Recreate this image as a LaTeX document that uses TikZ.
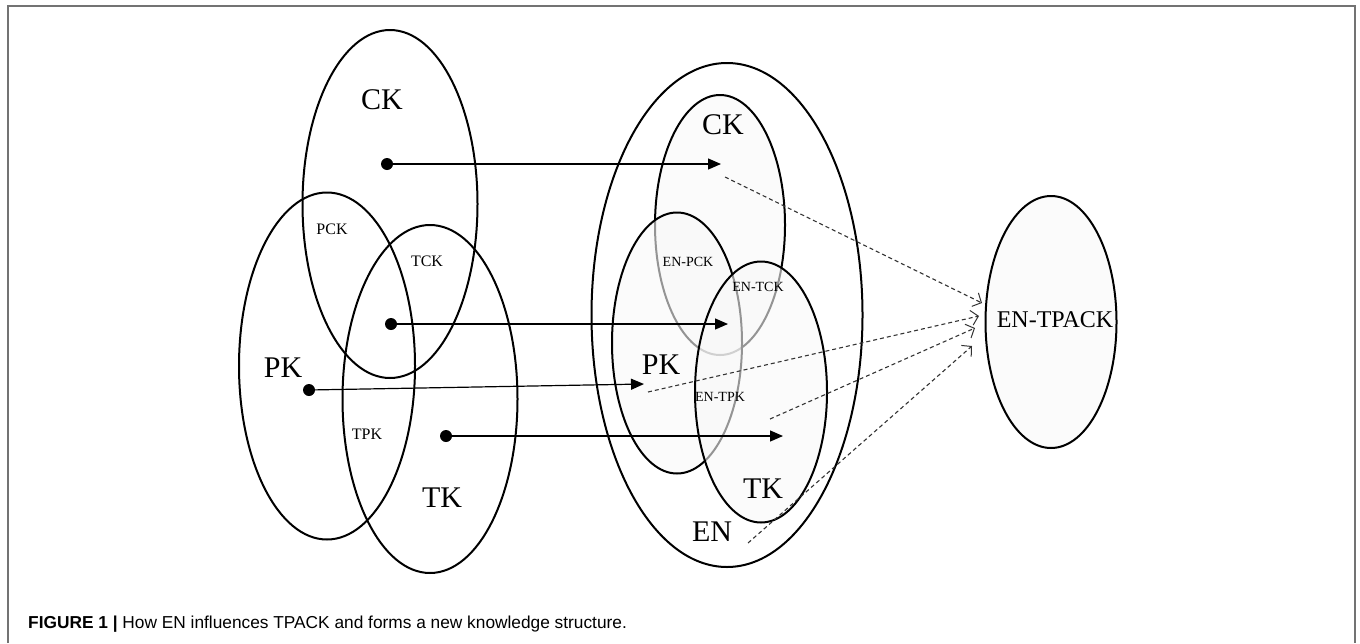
\documentclass[tikz,border=0pt]{standalone}
\usepackage{fontspec}
\setmainfont{Liberation Serif}
\newfontfamily\capfont{Liberation Sans}
\usetikzlibrary{shapes.geometric,arrows.meta}
\definecolor{inner}{RGB}{248,248,248}
\begin{document}
\begin{tikzpicture}[x=1pt,y=-1pt,
  ell/.style={ellipse, draw, line width=2pt, inner sep=0pt},
  fel/.style={ell, fill=inner, fill opacity=0.6, draw opacity=1},
  big/.style={font=\fontsize{30}{31}\selectfont, inner sep=0pt},
  small/.style={font=\fontsize{16}{17}\selectfont, inner sep=0pt},
  tiny/.style={font=\fontsize{14}{15}\selectfont, inner sep=0pt},
  dot/.style={circle, fill=black, inner sep=0pt, minimum size=12pt},
  sarrow/.style={line width=1.2pt, -{Triangle[length=13pt,width=11pt]}},
  darrow/.style={line width=1.1pt, black!80, dash pattern=on 4pt off 3pt, -{Straight Barb[length=7pt,width=15pt,line width=1pt]}}
]
\useasboundingbox (0,0) rectangle (1360,643);
\draw[black!55, line width=1.6pt] (8,643) -- (8,6) -- (1355,6) -- (1355,643);

% left group
\node[ell, minimum width=175pt, minimum height=348pt] (lck) at (390,204) {};
\node[ell, minimum width=176pt, minimum height=347pt] (lpk) at (327,366) {};
\node[ell, minimum width=175pt, minimum height=348pt] (ltk) at (430,399) {};
\node[big] (lckl) at (382,100) {CK};
\node[small] (lpck) at (332,229) {PCK};
\node[small] (ltck) at (427,261) {TCK};
\node[big] (lpkl) at (283,368) {PK};
\node[small] (ltpk) at (367,434) {TPK};
\node[big] (ltkl) at (442,498) {TK};

% right group
\node[ell, minimum width=271pt, minimum height=504pt] (en) at (727,315) {};
\node[fel, minimum width=130pt, minimum height=260pt] (rck) at (720,225) {};
\node[fel, minimum width=130pt, minimum height=261pt] (rpk) at (677,343) {};
\node[fel, minimum width=132pt, minimum height=261pt] (rtk) at (761,392) {};
\node[big] (rckl) at (723,125) {CK};
\node[tiny] (rpck) at (688,262) {EN-PCK};
\node[tiny] (rtck) at (758,287) {EN-TCK};
\node[big] (rpkl) at (661,365) {PK};
\node[tiny] (rtpk) at (720,397) {EN-TPK};
\node[big] (rtkl) at (763,489) {TK};
\node[big] (enl) at (712,532) {EN};

% EN-TPACK
\node[fel, minimum width=131pt, minimum height=252pt] (tpack) at (1051,322) {};
\node[font=\fontsize{24}{25}\selectfont, inner sep=0pt] (tpackl) at (1055,320) {EN-TPACK};

% solid arrows
\node[dot] (d1) at (387,164) {};
\node[dot] (d2) at (391,324) {};
\node[dot] (d3) at (309,390) {};
\node[dot] (d4) at (446,436) {};
\coordinate (t1) at (721,164);
\coordinate (t2) at (728,324);
\coordinate (t3) at (644,384);
\coordinate (t4) at (783,436);
\draw[sarrow] (d1.center) -- (t1);
\draw[sarrow] (d2.center) -- (t2);
\draw[sarrow] (d3.center) -- (t3);
\draw[sarrow] (d4.center) -- (t4);

% dashed arrows
\coordinate (s1) at (725,177);
\coordinate (s2) at (648,392);
\coordinate (s3) at (770,419);
\coordinate (s4) at (748,543);
\coordinate (e1) at (982,303);
\coordinate (e2) at (979,316);
\coordinate (e3) at (975,328);
\coordinate (e4) at (972,346);
\draw[darrow] (s1) -- (e1);
\draw[darrow] (s2) -- (e2);
\draw[darrow] (s3) -- (e3);
\draw[darrow] (s4) -- (e4);

% caption
\node[anchor=base west, inner sep=0pt, font=\capfont\fontsize{17.3}{20}\selectfont] (cap) at (28,628)
  {\textbf{FIGURE 1 |} How EN influences TPACK and forms a new knowledge structure.};
\end{tikzpicture}
\end{document}
